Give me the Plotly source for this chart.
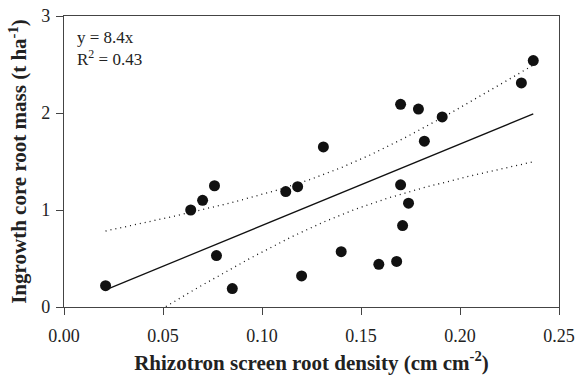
import numpy as np
import plotly.graph_objects as go

# Rhizotron screen root density (cm cm-2) vs ingrowth core root mass (t ha-1)
root_density = [0.021, 0.064, 0.070, 0.076, 0.077, 0.085, 0.112, 0.118, 0.120, 0.131, 0.140,
                0.159, 0.168, 0.170, 0.170, 0.171, 0.174, 0.179, 0.182, 0.191, 0.231, 0.237]
root_mass = [0.22, 1.00, 1.10, 1.25, 0.53, 0.19, 1.19, 1.24, 0.32, 1.65, 0.57,
             0.44, 0.47, 2.09, 1.26, 0.84, 1.07, 2.04, 1.71, 1.96, 2.31, 2.54]

slope_label = 8.4      # fitted slope, regression through origin
r2_label = 0.43
t_crit = 2.086         # two-sided 95 % Student t, 20 degrees of freedom

x = np.array(root_density)
y = np.array(root_mass)
n = len(x)

# 95 % confidence band of the mean response from an ordinary least-squares fit
b1, b0 = np.polyfit(x, y, 1)
resid = y - (b0 + b1 * x)
s = np.sqrt(np.sum(resid ** 2) / (n - 2))
sxx = np.sum((x - x.mean()) ** 2)
xs = np.linspace(x.min(), x.max(), 200)
half = t_crit * s * np.sqrt(1.0 / n + (xs - x.mean()) ** 2 / sxx)
fit_c = b0 + b1 * xs

xl = np.array([x.min(), x.max()])

fig = go.Figure()
dot = dict(color="#111111", width=1.3, dash="1px,4px")
fig.add_trace(go.Scatter(x=xs, y=fit_c + half, mode="lines", line=dot, hoverinfo="skip"))
fig.add_trace(go.Scatter(x=xs, y=fit_c - half, mode="lines", line=dot, hoverinfo="skip"))
fig.add_trace(go.Scatter(x=xl, y=slope_label * xl, mode="lines",
                         line=dict(color="#111111", width=1.3)))
fig.add_trace(go.Scatter(x=x, y=y, mode="markers",
                         marker=dict(color="#111111", size=11, line=dict(width=0))))

ink = "#222222"
axis_common = dict(showline=True, linecolor="#444444", linewidth=1.2, mirror=True,
                   ticks="outside", ticklen=7, tickcolor="#444444", tickwidth=1.2,
                   showgrid=False, zeroline=False, automargin=False,
                   tickfont=dict(family="Liberation Serif", size=18, color=ink))
title_font = dict(family="Liberation Serif", size=21, color=ink)

fig.update_layout(
    width=578, height=376,
    margin=dict(l=64, r=19, t=16, b=69),
    paper_bgcolor="white", plot_bgcolor="white",
    showlegend=False,
    font=dict(family="Liberation Serif", color=ink),
    xaxis=dict(range=[0, 0.25], tickvals=[0, 0.05, 0.10, 0.15, 0.20, 0.25],
               ticktext=["0.00", "0.05", "0.10", "0.15", "0.20", "0.25"],
               ticklabelstandoff=5,
               title=dict(text="<b>Rhizotron screen root density (cm cm<sup>-2</sup>)</b>",
                          font=title_font, standoff=10),
               **axis_common),
    yaxis=dict(range=[0, 3], tickvals=[0, 1, 2, 3],
               ticklabelstandoff=2,
               title=dict(text="<b>Ingrowth core root mass (t ha<sup>-1</sup>)</b>",
                          font=title_font, standoff=8),
               **axis_common),
    annotations=[
        dict(xref="paper", yref="paper", x=0.022, y=0.965, xanchor="left", yanchor="top",
             showarrow=False, align="left",
             text=f"y = {slope_label}x<br>R<sup>2</sup> = {r2_label}",
             font=dict(family="Liberation Serif", size=17, color=ink)),
    ],
)

fig.write_html("out.html")
